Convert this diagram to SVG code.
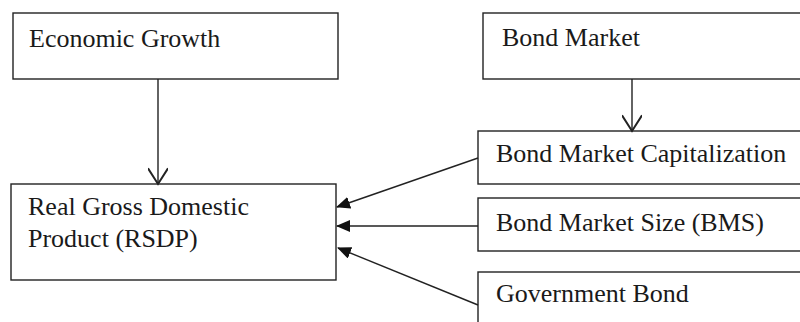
<svg xmlns="http://www.w3.org/2000/svg" width="800" height="322" viewBox="0 0 800 322">
<style>
.box{fill:#fff;stroke:#222;stroke-width:1.4}
.t{font-family:"Liberation Serif","Times New Roman",serif;font-size:26px;fill:#1a1a1a}
.c{fill:none;stroke:#222;stroke-width:1.4}
</style>
<defs>
<marker id="open" markerUnits="userSpaceOnUse" markerWidth="20" markerHeight="20" refX="11" refY="7" orient="auto" viewBox="0 0 12 14">
<polyline points="0,0 11,7 0,14" fill="none" stroke="#222" stroke-width="1.4"/>
</marker>
<marker id="fill" markerUnits="userSpaceOnUse" markerWidth="14" markerHeight="12" refX="13" refY="6" orient="auto" viewBox="0 0 14 12">
<polygon points="0,0 14,6 0,12" fill="#111"/>
</marker>
</defs>
<rect width="800" height="322" fill="#fff"/>
<g id="economic-growth"><rect class="box" x="13" y="13" width="325" height="66"/><text class="t" x="29" y="47">Economic Growth</text></g>
<g id="bond-market"><rect class="box" x="483" y="13" width="330" height="66"/><text class="t" x="502" y="46">Bond Market</text></g>
<g id="rgdp"><rect class="box" x="11" y="184" width="325" height="96"/><text class="t" x="28" y="215">Real Gross Domestic</text><text class="t" x="28" y="247">Product (RSDP)</text></g>
<g id="bmc"><rect class="box" x="478" y="131" width="330" height="53"/><text class="t" x="496" y="162">Bond Market Capitalization</text></g>
<g id="bms"><rect class="box" x="478" y="198" width="330" height="53"/><text class="t" x="496" y="231">Bond Market Size (BMS)</text></g>
<g id="gov-bond"><rect class="box" x="478" y="272" width="330" height="60"/><text class="t" x="496" y="302">Government Bond</text></g>
<g id="connectors">
<line class="c" x1="158" y1="79" x2="158" y2="184" marker-end="url(#open)"/>
<line class="c" x1="632" y1="79" x2="632" y2="131" marker-end="url(#open)"/>
<line class="c" x1="478" y1="158" x2="337" y2="207" marker-end="url(#fill)"/>
<line class="c" x1="478" y1="226" x2="337" y2="226" marker-end="url(#fill)"/>
<line class="c" x1="478" y1="305" x2="338" y2="248" marker-end="url(#fill)"/>
</g>
</svg>
